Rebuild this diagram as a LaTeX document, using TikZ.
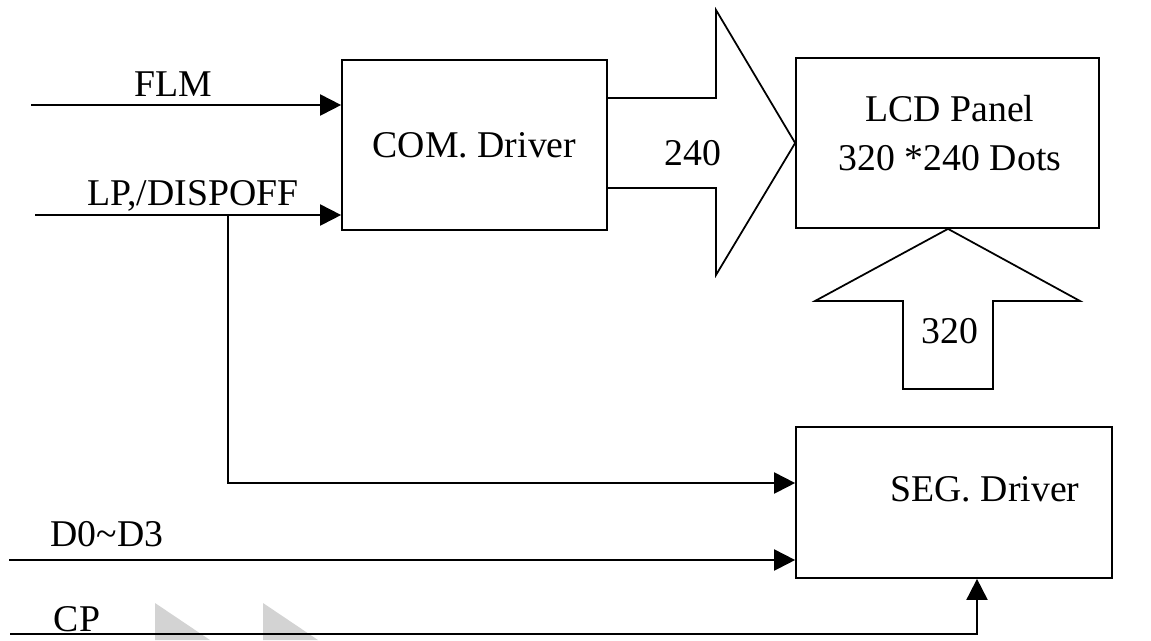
\documentclass[tikz,border=0pt]{standalone}
\usepackage{fontspec}
\setmainfont{Liberation Serif}
\usetikzlibrary{arrows.meta,positioning,calc}
\definecolor{Ink}{HTML}{000000}
\definecolor{MarkGray}{HTML}{D3D3D3}

\tikzset{
  block/.style={draw=Ink,line width=1pt,rectangle,inner sep=0pt},
  sig/.style={draw=Ink,line width=1.1pt,-{Triangle[length=12pt,width=12pt]}},
  bus/.style={draw=Ink,line width=1pt,line join=miter},
  txt/.style={font=\fontsize{21.5}{27.5}\selectfont,inner sep=0pt,align=center}
}

\begin{document}
\begin{tikzpicture}[x=0.02cm,y=-0.02cm,text=Ink]
\useasboundingbox (0,0) rectangle (1151,640);
% faint marks along the bottom edge, under the wires
\fill[MarkGray] (155,603) -- (210,640) -- (155,640) -- cycle;
\fill[MarkGray] (263,603) -- (318,640) -- (263,640) -- cycle;
% blocks
\node[block,minimum width=5.3cm,minimum height=3.4cm,txt] (com) at (474.5,145){COM. Driver};
\node[block,minimum width=6.06cm,minimum height=3.4cm] (lcd) at (947.5,143){};
\node[txt] (lcdlbl) at (950,133){LCD Panel\\320 *240 Dots};
\node[block,minimum width=6.32cm,minimum height=3.02cm] (seg) at (954,502.5){};
\node[txt] (seglbl) at (985,489){SEG. Driver};
% wide bus arrows
\draw[bus] (com.east |- 0,98) -- (716,98) -- (716,10) -- (lcd.west) -- (716,275) -- (716,188) -- (com.east |- 0,188);
\node[txt] (rowbus) at (693,153){240};
\draw[bus] (lcd.south -| 948,0) -- (1080,301) -- (993,301) -- (993,389) -- (903,389) -- (903,301) -- (815,301) -- cycle;
\node[txt] (colbus) at (950,331){320};
% inputs
\coordinate (flmin) at (31,105);
\coordinate (lpin) at (35,215);
\coordinate (lpbr) at (228,215);
\coordinate (lpbend) at (228,483);
\coordinate (datin) at (9,560);
\coordinate (cpin) at (10,634);
\coordinate (cpbend) at (977,634);
\draw[sig] (flmin) -- (com.west |- flmin);
\node[txt] (flmlbl) at (173,84){FLM};
\draw[sig] (lpin) -- (com.west |- lpin);
\node[txt] (lplbl) at (193,196){LP,/DISPOFF};
\draw[sig] (lpbr) -- (lpbend) -- (seg.west |- lpbend);
\draw[sig] (datin) -- (seg.west |- datin);
\node[txt] (datlbl) at (107,534){D0\textasciitilde D3};
\draw[sig] (cpin) -- (cpbend) -- (cpbend |- seg.south);
\node[txt] (cplbl) at (77,619){CP};
\end{tikzpicture}
\end{document}
